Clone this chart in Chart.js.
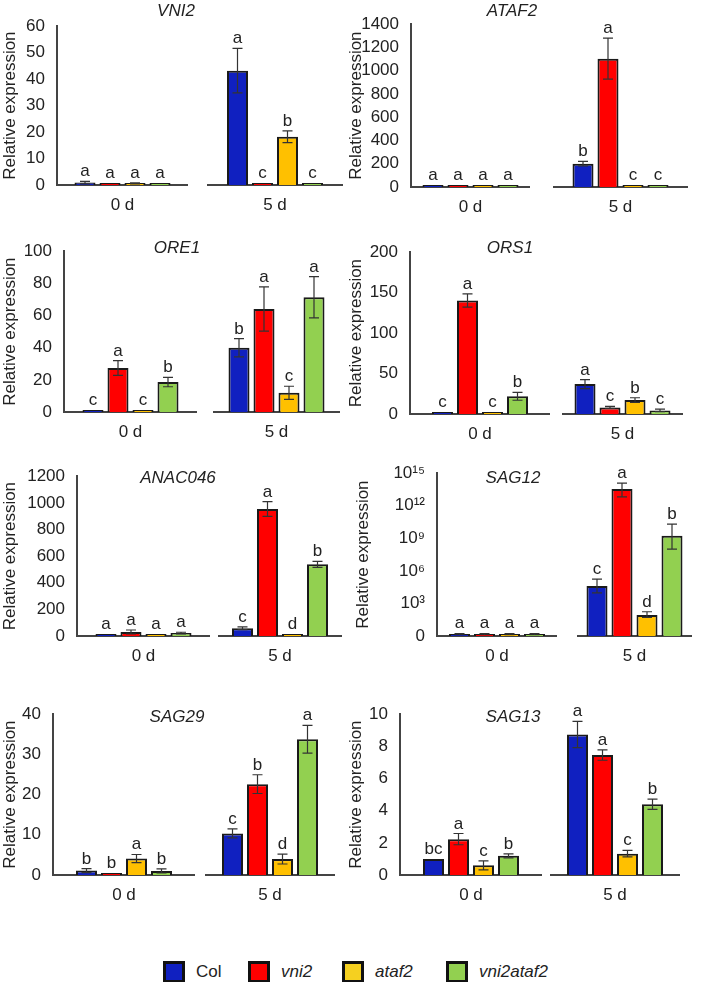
<!DOCTYPE html>
<html>
<head>
<meta charset="utf-8">
<script src="https://cdn.jsdelivr.net/npm/chart.js@4.4.1/dist/chart.umd.min.js"></script>
<style>
  body { margin: 0; background: #fff; }
  #fig { position: relative; width: 709px; height: 982px; font-family: "Liberation Sans", Arial, sans-serif; color: #222; }
  #fig canvas { position: absolute; }
  .gene { position: absolute; font-style: italic; font-size: 17px; transform: translate(-50%, -50%); white-space: nowrap; }
  .key { position: absolute; top: 961px; display: flex; align-items: center; font-size: 17px; }
  .key span.box { width: 22px; height: 22px; box-sizing: border-box; border: 3px solid #111; margin-right: 11px; }
  .key i { font-style: italic; }
</style>
</head>
<body>
<div id="fig"></div>
<script>
const genotypes = ['Col', 'vni2', 'ataf2', 'vni2ataf2'];
const days = ['0 d', '5 d'];

// first four values = 0 d, last four = 5 d
const vni2Mean = [0.9, 0.2, 0.6, 0.2, 42.6, 0.2, 18.0, 0.2];
const vni2Err = [0.5, 0, 0.2, 0, 8.3, 0, 2.2, 0];
const vni2Sig = ['a', 'a', 'a', 'a', 'a', 'c', 'b', 'c'];

const ataf2Mean = [6, 6, 1, 1, 198, 1089, 1, 1];
const ataf2Err = [2, 2, 0, 0, 20, 174, 0, 0];
const ataf2Sig = ['a', 'a', 'a', 'a', 'b', 'a', 'c', 'c'];

const ore1Mean = [1.0, 27.4, 1.0, 18.6, 39.4, 63.2, 11.8, 70.4];
const ore1Err = [0.2, 4.6, 0.2, 2.9, 5.6, 13.6, 4.0, 12.7];
const ore1Sig = ['c', 'a', 'c', 'b', 'b', 'a', 'c', 'a'];

const ors1Mean = [1.0, 140.4, 0.5, 21.9, 36.5, 8.0, 17.0, 4.4];
const ors1Err = [0.3, 8.2, 0.2, 4.9, 5.5, 1.2, 2.8, 1.5];
const ors1Sig = ['c', 'a', 'c', 'b', 'a', 'c', 'b', 'c'];

const anac046Mean = [3, 30, 3, 22, 57, 941, 12, 531];
const anac046Err = [1, 15, 1, 6, 10, 55, 3, 22];
const anac046Sig = ['a', 'a', 'a', 'a', 'c', 'a', 'd', 'b'];

const sag12Mean = [1.5, 1.5, 1.5, 1.5, 3.5e4, 2.3e13, 80, 1.3e9];
const sag12Low = [1.3, 1.3, 1.3, 1.3, 8.5e3, 4.4e12, 50, 8e7];
const sag12High = [1.7, 1.7, 1.7, 1.7, 1.5e5, 8e13, 160, 1.45e10];
const sag12Sig = ['a', 'a', 'a', 'a', 'c', 'a', 'd', 'b'];
const sag12TickVals = [1, 1e3, 1e6, 1e9, 1e12, 1e15];
const sag12TickLabels = ['0', '10³', '10⁶', '10⁹', '10¹²', '10¹⁵'];

const sag29Mean = [1.1, 0.1, 4.1, 1.0, 10.2, 22.3, 3.9, 33.3];
const sag29Err = [0.5, 0, 1.0, 0.5, 1.1, 2.3, 1.2, 3.4];
const sag29Sig = ['b', 'b', 'a', 'b', 'c', 'b', 'd', 'a'];

const sag13Mean = [1.0, 2.23, 0.6, 1.19, 8.62, 7.36, 1.31, 4.34];
const sag13Err = [0, 0.35, 0.28, 0.12, 0.8, 0.32, 0.2, 0.32];
const sag13Sig = ['bc', 'a', 'c', 'b', 'a', 'a', 'c', 'b'];

const barColors = ['#1020C0', '#FF0000', '#FFC000', '#92D050'];
const keyColors = ['#1020C0', '#FF0000', '#F5D020', '#92D050'];
const FONT = '"Liberation Sans", Arial, sans-serif';

const lowOf = (m, e) => m.map((v, i) => v - e[i]);
const highOf = (m, e) => m.map((v, i) => v + e[i]);

// layout of each panel (pixels on the page)
const panels = [
    {gene: 'VNI2', mean: vni2Mean, lo: lowOf(vni2Mean, vni2Err), hi: highOf(vni2Mean, vni2Err), sig: vni2Sig, max: 60, step: 10,
     x0: 0, axis: 57, end1: 188, start2: 207, end2: 343, top: 24, bottom: 185, tx: 176, ty: 11},
    {gene: 'ATAF2', mean: ataf2Mean, lo: lowOf(ataf2Mean, ataf2Err), hi: highOf(ataf2Mean, ataf2Err), sig: ataf2Sig, max: 1400, step: 200,
     x0: 346, axis: 411, end1: 530, start2: 553, end2: 688, top: 22, bottom: 187, tx: 512, ty: 11},
    {gene: 'ORE1', mean: ore1Mean, lo: lowOf(ore1Mean, ore1Err), hi: highOf(ore1Mean, ore1Err), sig: ore1Sig, max: 100, step: 20,
     x0: 0, axis: 64, end1: 197, start2: 213, end2: 340, top: 249, bottom: 412, tx: 177, ty: 248},
    {gene: 'ORS1', mean: ors1Mean, lo: lowOf(ors1Mean, ors1Err), hi: highOf(ors1Mean, ors1Err), sig: ors1Sig, max: 200, step: 50,
     x0: 346, axis: 410, end1: 550, start2: 562, end2: 683, top: 250, bottom: 414, tx: 510, ty: 248},
    {gene: 'ANAC046', mean: anac046Mean, lo: lowOf(anac046Mean, anac046Err), hi: highOf(anac046Mean, anac046Err), sig: anac046Sig, max: 1200, step: 200,
     x0: 0, axis: 77, end1: 210, start2: 218, end2: 342, top: 474, bottom: 636, tx: 178, ty: 478},
    {gene: 'SAG12', mean: sag12Mean, lo: sag12Low, hi: sag12High, sig: sag12Sig, log: true, max: 1e15,
     x0: 353, axis: 437, end1: 557, start2: 577, end2: 692, top: 471, bottom: 636, tx: 513, ty: 478},
    {gene: 'SAG29', mean: sag29Mean, lo: lowOf(sag29Mean, sag29Err), hi: highOf(sag29Mean, sag29Err), sig: sag29Sig, max: 40, step: 10,
     x0: 0, axis: 53, end1: 195, start2: 205, end2: 335, top: 712, bottom: 875, tx: 177, ty: 717},
    {gene: 'SAG13', mean: sag13Mean, lo: lowOf(sag13Mean, sag13Err), hi: highOf(sag13Mean, sag13Err), sig: sag13Sig, max: 10, step: 2,
     x0: 346, axis: 400, end1: 542, start2: 550, end2: 680, top: 712, bottom: 875, tx: 513, ty: 717},
];

const PAD_TOP = 20;
const X_AXIS_H = 30;
const BAR_STEP = 25;

// error bars + significance letters
const marks = {
    id: 'marks',
    afterDatasetsDraw(chart, args, opts) {
        const ctx = chart.ctx;
        const y = chart.scales.y;
        ctx.save();
        ctx.strokeStyle = '#333';
        ctx.lineWidth = 1.2;
        ctx.fillStyle = '#222';
        ctx.font = '17px ' + FONT;
        ctx.textAlign = 'center';
        ctx.textBaseline = 'alphabetic';
        chart.data.datasets.forEach((ds, k) => {
            const bar = chart.getDatasetMeta(k).data[0];
            const yHi = y.getPixelForValue(opts.hi[k]);
            const yLo = y.getPixelForValue(Math.max(opts.lo[k], y.min));
            if (yLo - yHi > 1) {
                ctx.beginPath();
                ctx.moveTo(bar.x, yLo); ctx.lineTo(bar.x, yHi);
                ctx.moveTo(bar.x - 5, yHi); ctx.lineTo(bar.x + 5, yHi);
                ctx.moveTo(bar.x - 5, yLo); ctx.lineTo(bar.x + 5, yLo);
                ctx.stroke();
            }
            ctx.fillText(opts.sig[k], bar.x, Math.min(yHi, bar.y) - 5);
        });
        ctx.restore();
    }
};

const fig = document.getElementById('fig');

function makeChart(p, day, withY) {
    const left = withY ? p.x0 : p.start2;
    const right = withY ? p.end1 : p.end2;
    const plotW = withY ? p.end1 - p.axis : p.end2 - p.start2;
    const canvas = document.createElement('canvas');
    canvas.width = right - left;
    canvas.height = p.bottom - p.top + PAD_TOP + X_AXIS_H;
    canvas.style.left = left + 'px';
    canvas.style.top = (p.top - PAD_TOP) + 'px';
    fig.appendChild(canvas);

    const from = day * 4;
    const yScale = {
        type: p.log ? 'logarithmic' : 'linear',
        display: withY,
        min: p.log ? 1 : 0,
        max: p.max,
        grid: {display: false, drawTicks: false},
        border: {display: withY, color: '#444', width: 2},
        ticks: {padding: 12, color: '#222', font: {size: 17}, autoSkip: false},
        title: {display: true, text: 'Relative expression', color: '#222', font: {size: 17}, padding: 0}
    };
    if (withY) {
        yScale.afterFit = s => { s.width = p.axis - p.x0; };
    }
    if (p.log) {
        yScale.afterBuildTicks = s => { s.ticks = sag12TickVals.map(v => ({value: v})); };
        yScale.ticks.callback = v => sag12TickLabels[sag12TickVals.indexOf(v)];
    } else {
        yScale.ticks.stepSize = p.step;
        yScale.ticks.callback = v => String(v);
    }

    return new Chart(canvas, {
        type: 'bar',
        data: {
            labels: [days[day]],
            datasets: genotypes.map((g, k) => ({
                label: g,
                data: [p.mean[from + k]],
                backgroundColor: barColors[k],
                borderColor: '#1a1a1a',
                borderWidth: 2,
                minBarLength: 2,
                categoryPercentage: (4 * BAR_STEP) / plotW,
                barPercentage: 0.84
            }))
        },
        options: {
            responsive: false,
            animation: false,
            layout: {padding: {top: PAD_TOP, left: 0, right: 0, bottom: 0}},
            plugins: {
                legend: {display: false},
                tooltip: {enabled: false},
                marks: {
                    lo: p.lo.slice(from, from + 4),
                    hi: p.hi.slice(from, from + 4),
                    sig: p.sig.slice(from, from + 4)
                }
            },
            scales: {
                x: {
                    grid: {display: false, drawTicks: false},
                    border: {display: true, color: '#444', width: 2},
                    ticks: {padding: 10, color: '#222', font: {size: 17}},
                    afterFit: s => { s.height = X_AXIS_H; }
                },
                y: yScale
            }
        },
        plugins: [marks]
    });
}

Chart.defaults.font.family = FONT;

panels.forEach(p => {
    makeChart(p, 0, true);
    makeChart(p, 1, false);
    const t = document.createElement('div');
    t.className = 'gene';
    t.textContent = p.gene;
    t.style.left = p.tx + 'px';
    t.style.top = p.ty + 'px';
    fig.appendChild(t);
});

// legend
const keyLeft = [163, 248, 342, 446];
genotypes.forEach((g, k) => {
    const item = document.createElement('div');
    item.className = 'key';
    item.style.left = keyLeft[k] + 'px';
    const box = document.createElement('span');
    box.className = 'box';
    box.style.background = keyColors[k];
    const label = document.createElement(k === 0 ? 'span' : 'i');
    label.textContent = g;
    item.appendChild(box);
    item.appendChild(label);
    fig.appendChild(item);
});
</script>
</body>
</html>
